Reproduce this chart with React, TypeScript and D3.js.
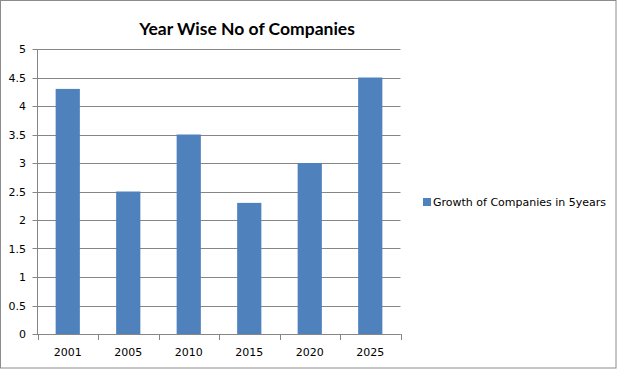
import * as d3 from "d3";

const years = ["2001", "2005", "2010", "2015", "2020", "2025"];
const companies = [4.3, 2.5, 3.5, 2.3, 3.0, 4.5];
const yTicks = [0, 0.5, 1, 1.5, 2, 2.5, 3, 3.5, 4, 4.5, 5];
const seriesName = "Growth of Companies in 5years";

const W = 617;
const H = 369;
const plot = { left: 37.5, right: 400.5, top: 49, bottom: 334 };
const lineColor = "#868686";
const barColor = "#4F81BD";
const labelFont = "DejaVu Sans, Verdana, sans-serif";

export default function App() {
  const x = d3.scaleBand().domain(years).range([plot.left, plot.right]).padding(0);
  const y = d3.scaleLinear().domain([0, 5]).range([plot.bottom, plot.top]);
  const step = x.step();
  const barW = step * 0.4;

  return (
    <svg width={W} height={H} style={{ position: "absolute", left: 0, top: 0 }}>
      <rect x={0} y={0} width={W} height={H} fill="#fff" />
      <rect x={0.5} y={0.5} width={W - 1.5} height={H - 1.5} fill="none" stroke="#8c8c8c" />

      <text x={247} y={35} textAnchor="middle" fontFamily="Lato, sans-serif" fontWeight="bold" fontSize={17.5} fill="#000">
        Year Wise No of Companies
      </text>

      {/* gridlines + y ticks */}
      {yTicks.map(t => (
        <g key={t}>
          <line x1={plot.left - 5} x2={plot.right} y1={Math.round(y(t)) + 0.5} y2={Math.round(y(t)) + 0.5} stroke={lineColor} />
          <text x={26} y={y(t) + 4} textAnchor="end" fontFamily={labelFont} fontSize={11} fill="#000">
            {t}
          </text>
        </g>
      ))}

      {/* y axis */}
      <line x1={plot.left} x2={plot.left} y1={plot.top} y2={plot.bottom + 0.5} stroke={lineColor} />

      {/* bars */}
      {years.map((yr, i) => (
        <rect
          key={yr}
          x={(x(yr) as number) + (step - barW) / 2}
          y={y(companies[i])}
          width={barW}
          height={y(0) - y(companies[i])}
          fill={barColor}
        />
      ))}

      {/* x axis */}
      <line x1={plot.left} x2={plot.right} y1={plot.bottom + 0.5} y2={plot.bottom + 0.5} stroke={lineColor} />
      {[...years.map(yr => x(yr) as number), plot.right].map((px, i) => (
        <line key={i} x1={Math.round(px) + 0.5} x2={Math.round(px) + 0.5} y1={plot.bottom} y2={plot.bottom + 6} stroke={lineColor} />
      ))}
      {years.map(yr => (
        <text key={yr} x={(x(yr) as number) + step / 2} y={356} textAnchor="middle" fontFamily={labelFont} fontSize={11} fill="#000">
          {yr}
        </text>
      ))}

      {/* legend */}
      <rect x={423} y={198} width={8} height={8} fill={barColor} />
      <text x={433} y={206} fontFamily={labelFont} fontSize={11} fill="#000">
        {seriesName}
      </text>
    </svg>
  );
}
